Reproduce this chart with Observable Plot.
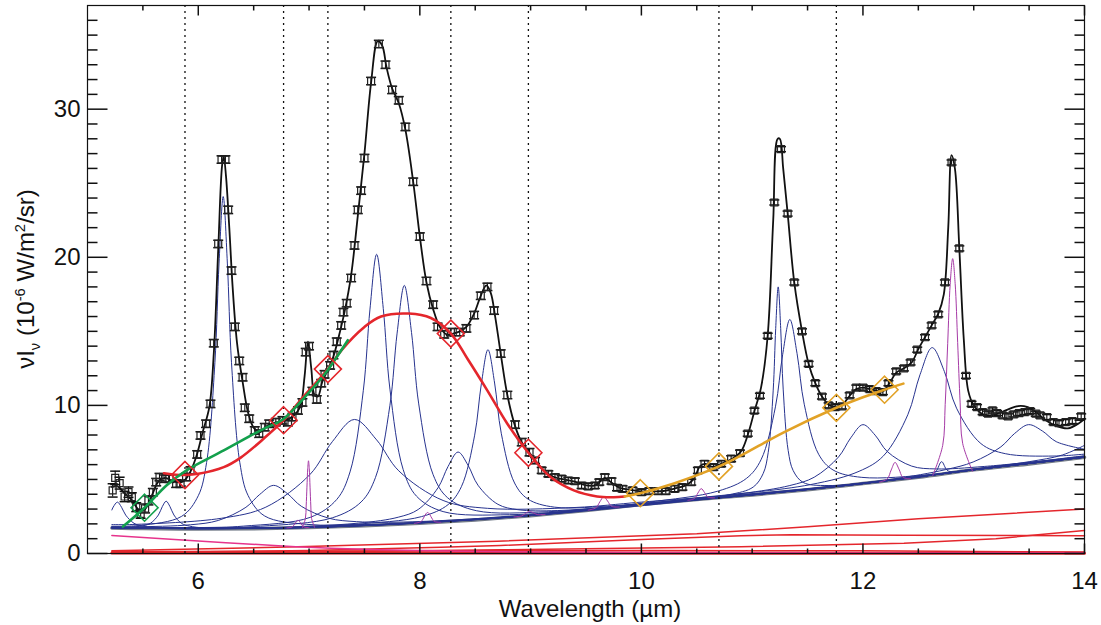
<!DOCTYPE html>
<html><head><meta charset="utf-8">
<script src="https://cdn.jsdelivr.net/npm/d3@7"></script>
<script src="https://cdn.jsdelivr.net/npm/@observablehq/plot@0.6"></script>
<style>
body{margin:0;background:#fff;}
#wrap{position:relative;width:1101px;height:625px;font-family:"Liberation Sans",Arial,sans-serif;}
.t{position:absolute;white-space:nowrap;font-size:24px;color:#111;line-height:1;}
.t sub,.t sup{font-size:0.62em;}
</style></head><body>
<div id="wrap"><div id="chart"></div>
<div class="t" id="yt" style="left:28px;top:279px;transform:translate(-50%,-50%) rotate(-90deg);">νI<sub>ν</sub> (10<sup>-6</sup> W/m<sup>2</sup>/sr)</div>
<div class="t" id="xt" style="left:590px;top:609px;transform:translate(-50%,-50%);">Wavelength (µm)</div>
</div>
<script>
// ---- observed spectrum ----
const lam = [5.227,5.25,5.29,5.335,5.37,5.40,5.44,5.48,5.52,5.55,
5.59,5.62,5.65,5.70,5.74,5.80,5.84,5.89,5.93,5.99,
6.02,6.07,6.11,6.14,6.18,6.21,6.245,6.27,6.30,6.33,
6.37,6.40,6.42,6.46,6.51,6.55,6.60,6.64,6.70,6.76,
6.81,6.85,6.90,6.94,6.97,7.00,7.03,7.07,7.11,7.14,
7.19,7.22,7.25,7.29,7.31,7.34,7.38,7.41,7.44,7.47,
7.50,7.56,7.63,7.69,7.75,7.81,7.87,7.94,8.00,8.06,
8.12,8.16,8.22,8.28,8.36,8.42,8.49,8.55,8.61,8.67,
8.73,8.79,8.86,8.92,8.99,9.04,9.10,9.16,9.22,9.28,
9.34,9.40,9.46,9.52,9.58,9.62,9.67,9.73,9.78,9.83,
9.92,10.00,10.07,10.15,10.22,10.30,10.37,10.45,10.51,10.57,
10.65,10.72,10.81,10.89,10.96,11.02,11.07,11.14,11.20,11.26,
11.32,11.38,11.45,11.51,11.57,11.63,11.69,11.75,11.81,11.88,
11.94,12.00,12.06,12.12,12.18,12.23,12.30,12.37,12.43,12.49,
12.56,12.62,12.68,12.74,12.80,12.87,12.93,12.98,13.03,13.08,
13.13,13.17,13.21,13.26,13.31,13.36,13.41,13.46,13.51,13.56,
13.60,13.66,13.72,13.77,13.83,13.89,13.97];
const flux = [4.26,5.11,4.75,3.85,4.14,3.80,3.13,2.68,3.04,3.58,
4.14,4.82,5.16,5.05,5.05,4.71,4.71,5.16,5.61,6.69,
7.97,8.76,10.1,14.2,20.9,26.6,26.6,23.2,19.1,15.3,
13.0,11.9,9.84,9.10,8.31,8.09,8.53,8.76,8.87,8.99,
8.87,9.21,9.66,10.2,13.6,14.0,10.97,10.4,11.5,12.1,
12.7,13.4,14.3,15.4,16.3,16.9,18.6,20.8,23.2,24.5,
26.7,31.9,34.4,33.0,31.3,30.6,28.8,25.1,21.4,18.4,
16.8,15.3,14.8,14.95,14.95,15.2,16.1,17.4,18.0,16.4,
13.5,10.7,8.7,7.52,6.84,6.28,5.61,5.38,5.16,5.05,
4.93,4.89,4.59,4.53,4.59,4.82,5.16,4.89,4.44,4.37,
4.26,4.14,4.21,4.21,4.21,4.37,4.48,4.82,5.61,6.06,
5.83,6.06,6.40,6.78,8.09,9.64,10.65,14.7,23.7,27.3,
22.95,18.3,15.0,12.8,11.5,10.6,10.0,9.88,9.93,10.68,
11.2,11.2,11.1,10.97,10.9,11.5,12.3,12.5,12.9,13.76,
14.6,15.4,16.15,18.3,26.4,20.6,12.0,10.1,9.88,9.55,
9.44,9.66,9.48,9.32,9.26,9.39,9.48,9.55,9.61,9.44,
9.32,9.21,8.87,8.80,8.87,8.94,9.26];
const err = [0.45,0.45,0.4,0.35,0.35,0.3,0.3,0.3,0.3,0.3,
0.25,0.25,0.25,0.25,0.25,0.25,0.25,0.25,0.25,0.25,
0.25,0.25,0.25,0.25,0.25,0.25,0.25,0.25,0.25,0.25,
0.25,0.25,0.25,0.25,0.25,0.25,0.25,0.25,0.25,0.25,
0.25,0.25,0.25,0.25,0.25,0.25,0.25,0.25,0.25,0.25,
0.25,0.25,0.25,0.25,0.25,0.25,0.25,0.25,0.25,0.25,
0.25,0.25,0.25,0.25,0.25,0.25,0.25,0.25,0.25,0.25,
0.25,0.25,0.25,0.25,0.25,0.25,0.25,0.25,0.25,0.25,
0.25,0.25,0.25,0.25,0.25,0.2,0.2,0.2,0.2,0.2,
0.2,0.2,0.2,0.2,0.2,0.2,0.2,0.2,0.2,0.2,
0.2,0.2,0.2,0.2,0.2,0.2,0.2,0.2,0.2,0.2,
0.2,0.2,0.2,0.2,0.17,0.17,0.17,0.17,0.17,0.17,
0.17,0.17,0.17,0.17,0.17,0.17,0.17,0.17,0.17,0.17,
0.17,0.17,0.17,0.17,0.17,0.17,0.17,0.17,0.17,0.17,
0.17,0.17,0.17,0.17,0.17,0.17,0.17,0.17,0.17,0.17,
0.17,0.17,0.17,0.17,0.17,0.17,0.17,0.17,0.17,0.17,
0.17,0.17,0.17,0.17,0.17,0.17,0.17];

// ---- total model ----
const modelX = [5.22,5.27,5.33,5.40,5.47,5.52,5.58,5.64,5.70,5.78,5.86,5.92,5.98,6.04,6.10,6.14,6.18,6.215,6.23,6.25,6.28,6.31,6.35,6.40,6.45,6.50,6.56,6.62,6.70,6.78,6.86,6.92,6.96,6.99,7.02,7.05,7.08,7.12,7.17,7.22,7.27,7.32,7.38,7.44,7.50,7.56,7.62,7.66,7.70,7.75,7.81,7.87,7.94,8.00,8.06,8.12,8.18,8.24,8.30,8.36,8.42,8.49,8.55,8.60,8.64,8.68,8.73,8.79,8.86,8.92,8.99,9.05,9.12,9.20,9.30,9.40,9.50,9.58,9.64,9.67,9.72,9.80,9.90,10.00,10.10,10.20,10.30,10.40,10.47,10.53,10.58,10.64,10.72,10.82,10.90,10.96,11.02,11.08,11.14,11.19,11.23,11.25,11.28,11.32,11.38,11.45,11.51,11.57,11.63,11.70,11.76,11.82,11.88,11.94,12.00,12.06,12.12,12.18,12.24,12.30,12.37,12.44,12.50,12.56,12.62,12.68,12.73,12.77,12.80,12.83,12.87,12.91,12.95,13.00,13.06,13.12,13.20,13.30,13.40,13.48,13.56,13.65,13.75,13.85,13.95,14.0];
const modelY = [4.5,4.55,4.1,3.6,2.9,3.0,3.9,4.85,5.1,4.85,4.85,5.4,6.5,8.2,9.9,13.5,20.5,26.2,26.8,25.5,22.0,18.0,14.2,11.6,9.5,8.5,8.2,8.6,8.85,8.95,9.3,9.9,12.0,14.3,12.5,10.7,10.6,11.6,12.4,13.3,14.7,16.3,18.8,22.8,27.0,31.8,34.6,34.3,32.8,31.4,30.4,28.6,25.1,21.4,18.3,16.5,15.3,14.8,14.85,15.0,15.3,16.2,17.4,18.1,17.6,16.0,13.5,10.7,8.6,7.5,6.8,6.2,5.6,5.2,5.0,4.85,4.6,4.6,4.95,5.1,4.85,4.45,4.3,4.2,4.2,4.22,4.38,4.6,5.0,5.9,6.05,5.85,6.05,6.4,6.9,8.0,9.6,11.2,14.7,22.5,28.0,28.0,26.0,23.0,18.3,15.0,12.8,11.5,10.6,10.0,9.9,10.1,10.65,11.1,11.2,11.1,11.0,10.95,11.5,12.2,12.5,12.9,13.8,14.6,15.4,16.2,17.5,22.0,26.9,26.0,20.6,14.5,11.0,10.0,9.5,9.3,9.4,9.7,9.95,9.9,9.55,9.0,8.6,8.45,8.8,9.1];

// ---- continuum (gray) ----
const contX = [5.22,5.5,6.0,6.5,7.0,7.5,8.0,8.5,9.0,9.5,10.0,10.5,11.0,11.5,12.0,12.5,13.0,13.5,14.0];
const contY = [1.72,1.68,1.65,1.67,1.75,1.88,2.05,2.27,2.55,2.9,3.3,3.65,3.95,4.3,4.72,5.15,5.65,6.05,6.5];

// ---- blue feature profiles ----
const blue527 = [[5.22,2.94],[5.2325,3.14],[5.27,3.47],[5.3075,3.12],[5.345,2.59],[5.42,2.04],[5.495,1.86],[5.645,1.74],[6.0,1.67],[7,1.76],[8,2.06],[9,2.56],[10,3.3],[11,3.95],[12,4.72],[13,5.65],[14,6.5]];
const blue571 = [[5.22,1.76],[5.36,1.77],[5.50,1.87],[5.57,2.05],[5.64,2.60],[5.675,3.16],[5.71,3.53],[5.745,3.16],[5.78,2.60],[5.85,2.03],[5.92,1.85],[6.06,1.72],[6.41,1.69],[7,1.76],[8,2.06],[9,2.56],[10,3.3],[11,3.95],[12,4.72],[13,5.65],[14,6.5]];
const blue622 = [[5.22,1.84],[5.475,1.90],[5.85,2.51],[6.0,3.90],[6.075,6.14],[6.15,12.88],[6.1875,19.61],[6.225,24.1],[6.2625,19.61],[6.30,12.88],[6.375,6.14],[6.45,3.91],[6.60,2.53],[6.975,1.97],[7.5,1.96],[8,2.1],[9,2.58],[10,3.31],[11,3.96],[12,4.72],[13,5.65],[14,6.5]];
const blue668 = [[5.22,1.80],[5.43,1.80],[5.93,1.94],[6.18,2.23],[6.43,3.12],[6.555,3.99],[6.68,4.6],[6.805,4.04],[6.93,3.19],[7.18,2.38],[7.43,2.15],[7.93,2.14],[9.18,2.71],[10,3.32],[11,3.96],[12,4.72],[13,5.65],[14,6.5]];
const blue741 = [[5.22,1.95],[5.41,1.96],[6.21,2.38],[6.61,3.13],[7.01,5.35],[7.21,7.55],[7.41,9.05],[7.61,7.67],[7.81,5.58],[8.21,3.58],[8.61,3.05],[9.41,3.11],[10.0,3.47],[11.41,4.31],[12.5,5.19],[13.0,5.69],[14,6.53]];
const blue761 = [[5.22,1.77],[6.0,1.75],[6.41,1.85],[7.01,2.44],[7.25,3.65],[7.37,5.51],[7.49,11.02],[7.55,16.5],[7.61,20.2],[7.67,16.54],[7.73,11.1],[7.85,5.66],[7.97,3.87],[8.21,2.83],[8.81,2.62],[9.5,2.97],[10,3.32],[11,3.96],[12,4.72],[13,5.65],[14,6.5]];
const blue786 = [[5.22,1.76],[6.0,1.73],[6.56,1.84],[7.21,2.41],[7.47,3.48],[7.6,5.14],[7.73,10.01],[7.795,14.88],[7.86,18.1],[7.925,14.92],[7.99,10.1],[8.12,5.32],[8.25,3.77],[8.51,2.89],[9.16,2.82],[10,3.34],[11,3.97],[12,4.72],[13,5.65],[14,6.5]];
const blue834 = [[5.22,1.74],[6.0,1.67],[6.545,1.72],[7.445,2.05],[7.805,2.45],[7.985,2.97],[8.165,4.45],[8.255,5.88],[8.345,6.85],[8.435,5.96],[8.525,4.61],[8.705,3.32],[8.885,2.96],[9.245,2.9],[10.145,3.45],[11,3.97],[12,4.72],[13,5.65],[14,6.5]];
const blue861 = [[5.22,1.74],[6.0,1.67],[7.0,1.81],[7.415,1.97],[8.015,2.49],[8.255,3.30],[8.375,4.51],[8.495,7.99],[8.555,11.44],[8.615,13.76],[8.675,11.51],[8.735,8.12],[8.855,4.76],[8.975,3.68],[9.215,3.13],[9.815,3.26],[11,3.97],[12,4.72],[13,5.65],[14,6.5]];
const blue1123 = [[5.22,1.72],[7,1.75],[9,2.56],[10,3.31],[10.785,3.96],[11.01,4.49],[11.10,5.41],[11.145,6.83],[11.19,11.03],[11.2125,15.2],[11.235,18.0],[11.2575,15.2],[11.28,11.1],[11.325,6.96],[11.37,5.6],[11.46,4.8],[11.685,4.59],[12.5,5.17],[13,5.66],[14,6.51]];
const blue1134 = [[5.22,1.73],[7,1.76],[9,2.57],[10.04,3.44],[10.69,4.21],[10.95,5.08],[11.08,6.33],[11.21,9.9],[11.275,13.42],[11.34,15.8],[11.405,13.51],[11.47,10.08],[11.60,6.7],[11.73,5.64],[11.99,5.14],[12.64,5.35],[13.3,5.94],[14,6.53]];
const blue1200 = [[5.22,1.73],[7,1.77],[8.5,2.3],[9.8,3.18],[10.9,4.04],[11.34,4.59],[11.56,5.15],[11.78,6.52],[11.89,7.81],[12.0,8.7],[12.11,7.99],[12.22,6.88],[12.44,5.9],[12.66,5.71],[13.1,5.88],[14,6.55]];
const blue1262 = [[5.22,1.74],[7,1.77],[9,2.58],[10.425,3.69],[11.525,4.65],[11.965,5.55],[12.185,6.59],[12.405,9.37],[12.515,12.07],[12.625,13.9],[12.735,12.29],[12.845,9.81],[13.065,7.42],[13.285,6.74],[13.725,6.58],[14,6.71]];
const blue1349 = [[5.22,1.73],[7,1.76],[9,2.57],[10.995,3.98],[12.245,5.0],[12.745,5.66],[12.995,6.18],[13.245,7.2],[13.37,8.11],[13.495,8.7],[13.62,8.27],[13.745,7.55],[14,7.04]];
const blue1271 = [[12.3,4.98],[12.6,5.27],[12.66,5.55],[12.71,6.2],[12.76,5.62],[12.82,5.5],[13.0,5.68]];
const blueEdge = [[11.5,4.32],[12.5,5.17],[13.0,5.7],[13.5,6.2],[13.8,6.65],[14,7.3]];
const blueBase = [[5.22,1.75],[6,1.68],[7,1.78],[8,2.08],[9,2.59],[10,3.33],[11,3.98],[12,4.75],[13,5.68],[14,6.6]];

// ---- magenta line profiles ----
const mag690 = [[6.80,1.73],[6.85,1.80],[6.875,2.05],[6.90,2.25],[6.925,2.05],[6.95,1.80],[7.0,1.75]];
const mag699 = [[6.94,1.75],[6.967,2.36],[6.974,3.21],[6.981,4.48],[6.988,5.72],[6.995,6.26],[7.002,5.72],[7.009,4.48],[7.016,3.21],[7.023,2.36],[7.05,1.76]];
const mag807 = [[7.95,2.03],[8.01,2.15],[8.025,2.29],[8.04,2.48],[8.055,2.68],[8.07,2.77],[8.085,2.69],[8.10,2.49],[8.115,2.30],[8.13,2.16],[8.19,2.1]];
const mag899 = [[8.85,2.47],[8.92,2.54],[8.955,2.71],[8.99,2.85],[9.025,2.75],[9.06,2.63],[9.13,2.64]];
const mag966 = [[9.52,2.93],[9.59,3.09],[9.625,3.49],[9.66,3.83],[9.695,3.54],[9.73,3.19],[9.80,3.14]];
const mag1054 = [[10.42,3.59],[10.48,3.72],[10.51,4.08],[10.54,4.38],[10.57,4.12],[10.60,3.81],[10.66,3.76]];
const mag1229 = [[12.15,4.82],[12.22,5.04],[12.255,5.64],[12.29,6.15],[12.325,5.70],[12.36,5.15],[12.43,5.04]];
const mag1281 = [[12.63,5.26],[12.72,7.3],[12.7425,10.07],[12.765,14.17],[12.7875,18.18],[12.81,19.91],[12.8325,18.22],[12.855,14.24],[12.8775,10.17],[12.90,7.44],[12.99,5.55]];

// ---- continuum components near zero ----
const red1 = [[5.22,0.18],[6.9,0.45],[8.7,0.83],[10.5,1.33],[11.5,1.8],[12.5,2.35],[14,3.0]];
const red2 = [[5.22,0.05],[7,0.2],[8.19,0.43],[8.73,0.54],[10,0.95],[10.9,1.2],[11.35,1.27],[12.37,1.24],[14,1.2]];
const red3 = [[5.22,0.02],[7,0.1],[8.73,0.25],[10.9,0.45],[12.37,0.7],[13.2,1.0],[14,1.55]];
const red4 = [[5.22,0.12],[8,0.18],[10,0.2],[12,0.18],[14,0.1]];
const red5 = [[5.22,0.03],[14,0.02]];
const pink = [[5.22,1.22],[6.0,0.85],[6.76,0.5],[7.2,0.35],[8.0,0.2],[8.6,0.13],[10,0.07],[12,0.04],[14,0.03]];

// ---- spline continua and anchor points ----
const redSpline = [[5.69,5.42],[5.80,5.32],[5.88,5.3],[6.0,5.38],[6.23,5.83],[6.38,6.46],[6.59,7.75],[6.77,9.0],[6.95,10.6],[7.17,12.45],[7.29,13.7],[7.5,15.3],[7.65,16.0],[7.9,16.2],[8.1,15.9],[8.28,14.85],[8.43,13.15],[8.61,11.0],[8.79,8.76],[8.98,6.8],[9.18,5.16],[9.39,4.26],[9.6,3.85],[9.75,3.8],[9.85,3.85]];
const greenLine = [[5.32,1.82],[5.515,3.09],[5.72,4.64],[5.89,5.6],[6.23,6.96],[6.59,8.42],[6.76,9.03],[6.99,10.8],[7.14,12.1],[7.35,14.4]];
const orangeLine = [[9.85,3.85],[9.99,4.07],[10.3,4.75],[10.70,5.88],[10.9,6.62],[11.29,8.2],[11.76,9.84],[12.0,10.55],[12.195,11.06],[12.365,11.47]];
const redAnchorX = [5.88,6.77,7.17,8.28,8.98];
const redAnchorY = [5.3,9.0,12.45,14.85,6.8];
const greenAnchorX = [5.515];
const greenAnchorY = [3.09];
const orangeAnchorX = [9.99,10.70,11.76,12.195];
const orangeAnchorY = [4.07,5.88,9.84,11.06];
const dottedX = [5.88,6.77,7.17,8.28,8.98,10.70,11.76];

// ---- axes ----
const xMajor = [6,8,10,12,14];
const xMinor = [5.5,6.5,7,7.5,8.5,9,9.5,10.5,11,11.5,12.5,13,13.5];
const yMajor = [0,10,20,30];
const yMinor = [1,2,3,4,5,6,7,8,9,11,12,13,14,15,16,17,18,19,21,22,23,24,25,26,27,28,29,31,32,33,34,35,36];

// ---- helpers ----
const rows = (id, arr) => arr.map(([x, y]) => ({id, x, y}));
const seg = (x0, y0, x1, y1) => ({draw(c) { c.moveTo(x0, y0); c.lineTo(x1, y1); }});
const sq = {draw(c) { c.moveTo(-3.5,-3.5); c.lineTo(3.5,-3.5); c.lineTo(3.5,3.5); c.lineTo(-3.5,3.5); c.closePath(); }};
const dia = {draw(c) { const h = 13.5; c.moveTo(0,-h); c.lineTo(h,0); c.lineTo(0,h); c.lineTo(-h,0); c.closePath(); }};

const pts = lam.map((x, i) => ({x, y: flux[i], e: err[i]}));
const model = modelX.map((x, i) => ({x, y: modelY[i]}));
const cont = contX.map((x, i) => ({x, y: contY[i]}));
const blues = [].concat(rows("a", blue527), rows("b", blue571), rows("c", blue622), rows("d", blue668),
  rows("e", blue741), rows("f", blue761), rows("g", blue786), rows("h", blue834), rows("i", blue861),
  rows("j", blue1123), rows("k", blue1134), rows("l", blue1200), rows("m", blue1262), rows("n", blue1349),
  rows("o", blue1271), rows("p", blueEdge), rows("q", blueBase));
const mags = [].concat(rows("a", mag690), rows("b", mag699), rows("c", mag807), rows("d", mag899),
  rows("e", mag966), rows("f", mag1054), rows("g", mag1229), rows("h", mag1281));
const reds = [].concat(rows("a", red1), rows("b", red2), rows("c", red3), rows("d", red4));
const anchors = [].concat(
  redAnchorX.map((x, i) => ({x, y: redAnchorY[i], c: "#e4262c"})),
  greenAnchorX.map((x, i) => ({x, y: greenAnchorY[i], c: "#13a04c"})),
  orangeAnchorX.map((x, i) => ({x, y: orangeAnchorY[i], c: "#e2a226"})));

const BLUE = "#27338f", MAG = "#a63aa6", RED = "#e4262c";

const plot = Plot.plot({
  width: 1101, height: 625,
  marginLeft: 87, marginRight: 17, marginTop: 5, marginBottom: 72,
  x: {domain: [5, 14]},
  y: {domain: [0, 37]},
  style: {fontFamily: "'Liberation Sans', Arial, sans-serif", fontSize: "24px", color: "#111", background: "white"},
  marks: [
    Plot.line(reds, {x: "x", y: "y", z: "id", stroke: RED, strokeWidth: 1.5}),
    Plot.line(rows("r5", red5), {x: "x", y: "y", stroke: RED, strokeWidth: 3}),
    Plot.line(rows("pk", pink), {x: "x", y: "y", stroke: "#e6338c", strokeWidth: 1.5, curve: "catmull-rom"}),
    Plot.line(cont, {x: "x", y: "y", stroke: "#737b88", strokeWidth: 3.5, curve: "catmull-rom"}),
    Plot.line(blues, {x: "x", y: "y", z: "id", stroke: BLUE, strokeWidth: 1, curve: "catmull-rom"}),
    Plot.line(mags, {x: "x", y: "y", z: "id", stroke: MAG, strokeWidth: 1, curve: "catmull-rom"}),
    Plot.ruleX(dottedX, {x: d => d, stroke: "#111", strokeWidth: 1.3, strokeDasharray: "2,4"}),
    Plot.line(model, {x: "x", y: "y", stroke: "#111", strokeWidth: 1.8, curve: "catmull-rom"}),
    Plot.ruleX(pts, {x: "x", y1: d => d.y - d.e, y2: d => d.y + d.e, stroke: "#111", strokeWidth: 1.1}),
    Plot.dot(pts, {x: "x", y: d => d.y + d.e, symbol: seg(-5, 0, 5, 0), r: 4, fill: "none", stroke: "#111", strokeWidth: 1.5}),
    Plot.dot(pts, {x: "x", y: d => d.y - d.e, symbol: seg(-5, 0, 5, 0), r: 4, fill: "none", stroke: "#111", strokeWidth: 1.5}),
    Plot.dot(pts, {x: "x", y: "y", symbol: sq, r: 4, fill: "none", stroke: "#222", strokeWidth: 1.2}),
    Plot.line(rows("rs", redSpline), {x: "x", y: "y", stroke: RED, strokeWidth: 2.6, curve: "catmull-rom"}),
    Plot.line(rows("gl", greenLine), {x: "x", y: "y", stroke: "#13a04c", strokeWidth: 2.6, curve: "catmull-rom"}),
    Plot.line(rows("ol", orangeLine), {x: "x", y: "y", stroke: "#e2a226", strokeWidth: 2.6, curve: "catmull-rom"}),
    Plot.dot(anchors, {x: "x", y: "y", symbol: dia, r: 10, fill: "none", stroke: "c", strokeWidth: 1.6}),
    Plot.frame({stroke: "#111", strokeWidth: 1.2}),
    Plot.dot(xMajor, {x: d => d, frameAnchor: "bottom", symbol: seg(0, 0, 0, -10), r: 4, fill: "none", stroke: "#111"}),
    Plot.dot(xMinor, {x: d => d, frameAnchor: "bottom", symbol: seg(0, 0, 0, -5), r: 4, fill: "none", stroke: "#111"}),
    Plot.dot(xMajor, {x: d => d, frameAnchor: "top", symbol: seg(0, 0, 0, 10), r: 4, fill: "none", stroke: "#111"}),
    Plot.dot(xMinor, {x: d => d, frameAnchor: "top", symbol: seg(0, 0, 0, 5), r: 4, fill: "none", stroke: "#111"}),
    Plot.dot(yMajor, {y: d => d, frameAnchor: "left", symbol: seg(0, 0, 20, 0), r: 4, fill: "none", stroke: "#111"}),
    Plot.dot(yMinor, {y: d => d, frameAnchor: "left", symbol: seg(0, 0, 10, 0), r: 4, fill: "none", stroke: "#111"}),
    Plot.dot(yMajor, {y: d => d, frameAnchor: "right", symbol: seg(0, 0, -20, 0), r: 4, fill: "none", stroke: "#111"}),
    Plot.dot(yMinor, {y: d => d, frameAnchor: "right", symbol: seg(0, 0, -10, 0), r: 4, fill: "none", stroke: "#111"}),
    Plot.axisX({ticks: xMajor, tickSize: 0, tickPadding: 18, tickFormat: d => String(d), label: null}),
    Plot.axisY({ticks: yMajor, tickSize: 0, tickPadding: 7, tickFormat: d => String(d), label: null})
  ]
});
document.getElementById("chart").append(plot);
</script>
</body></html>
